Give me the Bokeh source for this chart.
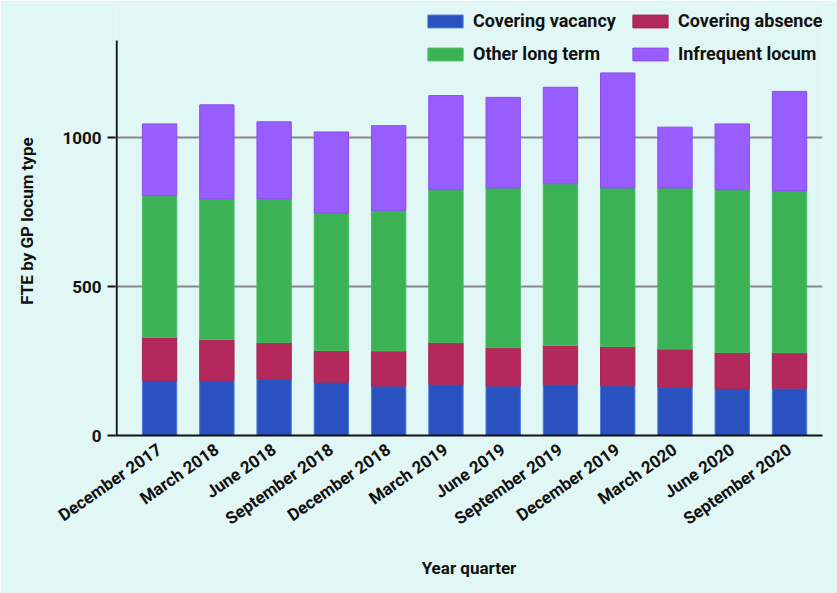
from bokeh.plotting import figure
from bokeh.models import Range1d, FixedTicker, Legend
from bokeh.embed import file_html
from bokeh.resources import INLINE

quarters = ["December 2017", "March 2018", "June 2018", "September 2018",
            "December 2018", "March 2019", "June 2019", "September 2019",
            "December 2019", "March 2020", "June 2020", "September 2020"]
covering_vacancy = [185, 184, 190, 179, 166, 172, 166, 172, 167, 163, 158, 159]
covering_absence = [144, 138, 122, 106, 118, 140, 129, 130, 132, 127, 121, 119]
other_long_term = [476, 472, 482, 462, 472, 513, 536, 543, 532, 541, 546, 543]
infrequent_locum = [241, 316, 259, 272, 284, 316, 304, 324, 386, 204, 221, 334]
y_ticks = [0, 500, 1000]
y_axis_top = 1326      # where the drawn y axis line ends
y_view_top = 1440      # extra room above for the legend

series_names = ["Covering vacancy", "Covering absence", "Other long term", "Infrequent locum"]
keys = ["vacancy", "absence", "other", "infrequent"]
colors = ["#2952C0", "#B3295C", "#3BB354", "#985DFF"]
lines = ["#4A78DC", "#A82455", "#45BD60", "#8A4DF5"]

BG = "#E1F7F5"
FONT = "Roboto"
INK = "#111111"

x = list(range(len(quarters)))
x_start, x_end = -0.77, 11.576
axis_x = -0.75
data = dict(x=x, vacancy=covering_vacancy, absence=covering_absence,
            other=other_long_term, infrequent=infrequent_locum)

p = figure(width=837, height=593, output_backend="svg", toolbar_location=None,
           x_range=Range1d(x_start, x_end), y_range=Range1d(0, y_view_top),
           min_border_left=115, min_border_right=15, min_border_top=6,
           min_border_bottom=158)
p.background_fill_color = BG
p.border_fill_color = BG
p.outline_line_color = None

p.xgrid.grid_line_color = None
p.ygrid.grid_line_color = "#888888"
p.ygrid.grid_line_width = 2
p.ygrid.ticker = FixedTicker(ticks=y_ticks)

renderers = p.vbar_stack(keys, x="x", width=0.6, source=data,
                         fill_color=colors, line_color=lines, line_width=1)

# y axis line that stops at the top of the value scale
p.segment(x0=[axis_x], y0=[0], x1=[axis_x], y1=[y_axis_top],
          line_color=INK, line_width=2)

legend = Legend(items=[(n, [r]) for n, r in zip(series_names, renderers)],
                location=(308, 371), orientation="horizontal", nrows=2,
                glyph_width=44, glyph_height=16, label_standoff=6,
                spacing=12, padding=0, margin=0,
                border_line_color=None, background_fill_alpha=0,
                label_text_font=FONT, label_text_font_style="bold",
                label_text_font_size="18px", label_text_color=INK,
                label_height=16)
p.add_layout(legend, "center")

p.yaxis.ticker = FixedTicker(ticks=y_ticks)
p.xaxis.ticker = FixedTicker(ticks=x)
p.xaxis.major_label_overrides = {i: q for i, q in enumerate(quarters)}
p.xaxis.major_label_orientation = 0.61
p.xaxis.major_tick_line_color = None
p.axis.minor_tick_line_color = None
p.xaxis.axis_line_width = 2
p.xaxis.axis_line_color = INK
p.yaxis.axis_line_color = None
p.yaxis.major_tick_line_width = 2
p.yaxis.major_tick_line_color = INK
p.yaxis.major_tick_out = 8
p.yaxis.major_tick_in = 0
p.yaxis.major_label_standoff = 6
p.xaxis.major_label_standoff = 6
p.axis.major_label_text_font = FONT
p.axis.major_label_text_font_style = "bold"
p.yaxis.major_label_text_font_size = "17px"
p.xaxis.major_label_text_font_size = "17px"
p.axis.major_label_text_color = INK
p.axis.axis_label_text_font = FONT
p.axis.axis_label_text_font_style = "bold"
p.axis.axis_label_text_font_size = "17px"
p.axis.axis_label_text_color = INK
p.xaxis.axis_label = "Year quarter"
p.yaxis.axis_label = "FTE by GP locum type"
p.xaxis.axis_label_standoff = 18
p.yaxis.axis_label_standoff = 22

html = file_html(p, INLINE)
html = html.replace("<body>", '<body style="background:%s">' % BG, 1)
open("out.html", "w").write(html)
